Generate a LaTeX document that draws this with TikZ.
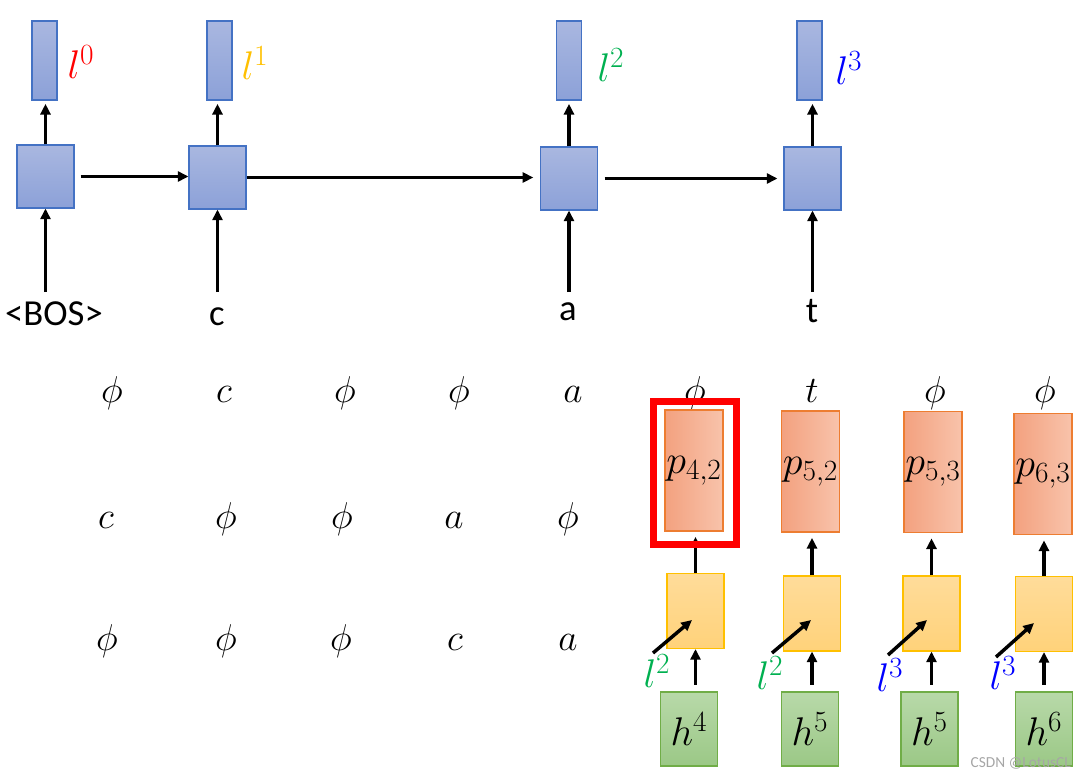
\RequirePackage{fix-cm}
\documentclass[tikz,border=0pt]{standalone}
\usepackage{fontspec}
\setsansfont{Carlito}
\DeclareMathSizes{30}{30}{22}{17}
\DeclareMathSizes{28}{28}{20}{15}
\usetikzlibrary{arrows.meta}
\definecolor{blueedge}{HTML}{4472C4}
\definecolor{bluetop}{HTML}{A9B7E0}
\definecolor{bluebot}{HTML}{8CA1D8}
\definecolor{pinkedge}{HTML}{ED7D31}
\definecolor{pinkleft}{HTML}{F3A17F}
\definecolor{pinkright}{HTML}{F8C3AB}
\definecolor{yeledge}{HTML}{FFC000}
\definecolor{yeltop}{HTML}{FFDC9A}
\definecolor{yelbot}{HTML}{FFD27A}
\definecolor{greenedge}{HTML}{70AD47}
\definecolor{greentop}{HTML}{B8D9A9}
\definecolor{greenbot}{HTML}{9BC886}
\definecolor{lred}{HTML}{FF0000}
\definecolor{lgold}{HTML}{FFC000}
\definecolor{lgreen}{HTML}{00B050}
\definecolor{lblue}{HTML}{0000FF}
\begin{document}
\begin{tikzpicture}[x=0.75pt,y=-0.75pt,
  bluebar/.style={draw=blueedge, line width=0.8pt, top color=bluetop, bottom color=bluebot, inner sep=0, minimum width=18.75pt, minimum height=59.25pt},
  bluesq/.style={draw=blueedge, line width=0.8pt, top color=bluetop, bottom color=bluebot, inner sep=0, minimum width=42.75pt, minimum height=47.25pt},
  pinkbox/.style={draw=pinkedge, line width=0.8pt, left color=pinkleft, right color=pinkright, inner sep=0, minimum width=43.5pt, minimum height=90.75pt, font=\fontsize{30}{36}\selectfont},
  yelbox/.style={draw=yeledge, line width=0.8pt, top color=yeltop, bottom color=yelbot, inner sep=0, minimum width=42.75pt, minimum height=56.25pt},
  greenbox/.style={draw=greenedge, line width=0.8pt, top color=greentop, bottom color=greenbot, inner sep=0, minimum width=42.75pt, minimum height=55.5pt, font=\fontsize{30}{36}\selectfont},
  arr/.style={line width=2.6pt, -{Triangle[length=8pt,width=7.5pt]}},
  llab/.style={inner sep=0, font=\fontsize{30}{36}\selectfont},
  word/.style={inner sep=0, anchor=base, font=\sffamily\fontsize{27.5}{33}\selectfont},
  gridtxt/.style={inner sep=0, anchor=base, font=\fontsize{28}{34}\selectfont},
  selbox/.style={draw=red, line width=5.25pt, inner sep=0, minimum width=62.25pt, minimum height=107.25pt}
]
\useasboundingbox (0,0) rectangle (1086,779);

% ---------- top: recurrent chain ----------
\node[bluebar] (b0) at (44.5,60.5) {};
\node[bluebar] (b1) at (219.5,60.5) {};
\node[bluebar] (b2) at (569,60.5) {};
\node[bluebar] (b3) at (809.5,60.5) {};

\node[bluesq] (s0) at (45.5,176.5) {};
\node[bluesq] (s1) at (217.5,177.5) {};
\node[bluesq] (s2) at (569,178.5) {};
\node[bluesq] (s3) at (812.5,178.5) {};

\node[llab, text=lred] (l0) at (81,62) {$l^0$};
\node[llab, text=lgold] (l1) at (255,63) {$l^1$};
\node[llab, text=lgreen] (l2) at (611,65) {$l^2$};
\node[llab, text=lblue] (l3) at (849,68) {$l^3$};

\foreach \i in {0,1,2,3}
  \draw[arr, shorten >=2.5pt] (s\i) -- (s\i |- b\i.south);

\draw[arr, shorten <=4.5pt] (s0.east) -- (s0.east -| s1.west);
\draw[arr] (s1.east) -- ([xshift=-5pt]s1.east -| s2.west);
\draw[arr, shorten <=5pt, shorten >=4.5pt] (s2.east) -- (s2.east -| s3.west);

\node[word] (w0) at (54,325) {<BOS>};
\node[word] (w1) at (217,325) {c};
\node[word] (w2) at (568,320) {a};
\node[word] (w3) at (812,322) {t};

\coordinate (i0) at (45.5,292);
\coordinate (i1) at (217.5,292);
\coordinate (i2) at (569,292);
\coordinate (i3) at (812.5,292);
\foreach \i in {0,1,2,3}
  \draw[arr] (i\i) -- (s\i);

% ---------- grid of labels ----------
\node[gridtxt] (g11) at (112,402) {$\phi$};
\node[gridtxt] (g12) at (224,402) {$c$};
\node[gridtxt] (g13) at (345,402) {$\phi$};
\node[gridtxt] (g14) at (459,402) {$\phi$};
\node[gridtxt] (g15) at (573,402) {$a$};
\node[gridtxt] (g16) at (695,402) {$\phi$};
\node[gridtxt] (g17) at (812,402) {$t$};
\node[gridtxt] (g18) at (935,402) {$\phi$};
\node[gridtxt] (g19) at (1045,402) {$\phi$};

\node[gridtxt] (g21) at (106,528) {$c$};
\node[gridtxt] (g22) at (226,528) {$\phi$};
\node[gridtxt] (g23) at (342,528) {$\phi$};
\node[gridtxt] (g24) at (454,528) {$a$};
\node[gridtxt] (g25) at (568,528) {$\phi$};

\node[gridtxt] (g31) at (107,650) {$\phi$};
\node[gridtxt] (g32) at (226,650) {$\phi$};
\node[gridtxt] (g33) at (341,650) {$\phi$};
\node[gridtxt] (g34) at (455,650) {$c$};
\node[gridtxt] (g35) at (568,650) {$a$};

% ---------- right: computation columns ----------
\node[pinkbox] (p1) at (694,470.5) {$p_{4,2}$};
\node[pinkbox] (p2) at (810.5,471.5) {$p_{5,2}$};
\node[pinkbox] (p3) at (933,472) {$p_{5,3}$};
\node[pinkbox] (p4) at (1043,474) {$p_{6,3}$};

\node[yelbox] (y1) at (695.5,611) {};
\node[yelbox] (y2) at (812,613.5) {};
\node[yelbox] (y3) at (931.5,613.5) {};
\node[yelbox] (y4) at (1044,614) {};

\node[greenbox] (h1) at (689,729) {$h^4$};
\node[greenbox] (h2) at (810,729) {$h^5$};
\node[greenbox] (h3) at (929.5,729) {$h^5$};
\node[greenbox] (h4) at (1044,729) {$h^6$};

\node[llab, text=lgreen] (m1) at (657,671) {$l^2$};
\node[llab, text=lgreen] (m2) at (770,673) {$l^2$};
\node[llab, text=lblue] (m3) at (890,675) {$l^3$};
\node[llab, text=lblue] (m4) at (1003,673) {$l^3$};

\foreach \i in {1,2,3,4} {
  \draw[arr, shorten <=5pt] (y\i.south |- h\i.north) -- (y\i.south);
  \draw[arr, shorten >=4pt] (y\i.north) -- (y\i.north |- p\i.south);
}

\coordinate (d1s) at (653,653); \coordinate (d1e) at (692,620);
\coordinate (d2s) at (772,653); \coordinate (d2e) at (811,620);
\coordinate (d3s) at (888,655); \coordinate (d3e) at (927,620);
\coordinate (d4s) at (996,657); \coordinate (d4e) at (1034,623);
\foreach \i in {1,2,3,4}
  \draw[arr] (d\i s) -- (d\i e);

\node[selbox] (sel) at (695,473) {};

\node[inner sep=0, anchor=east, text=black!35, font=\sffamily\fontsize{11.5}{14}\selectfont] (wm) at (1071,763) {CSDN @LotusCL};
\end{tikzpicture}
\end{document}
